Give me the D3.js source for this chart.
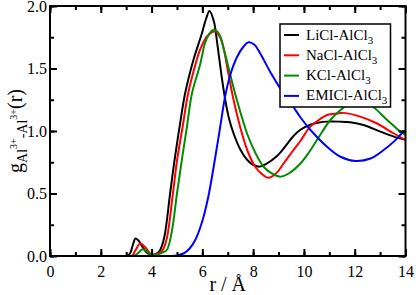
<!DOCTYPE html>
<html><head><meta charset="utf-8">
<script src="https://cdn.jsdelivr.net/npm/d3@7"></script>
<style>body{margin:0;background:#fff}svg{display:block}text{font-family:"Liberation Serif","Times New Roman",Times,"DejaVu Serif",serif;fill:#000}</style>
</head><body><svg id="c" width="416" height="295"></svg>
<script>
const seriesNames = ["LiCl-AlCl", "NaCl-AlCl", "KCl-AlCl", "EMICl-AlCl"];
const seriesColors = ["#000000", "#ff0000", "#008c00", "#0000ff"];
const liclR = [0,3.0,3.15,3.25,3.37,3.5,3.65,3.8,3.95,4.1,4.25,4.34,4.5,4.73,4.9,5.1,5.32,5.65,5.98,6.15,6.28,6.45,6.6,6.75,6.9,7.05,7.23,7.5,7.76,8.0,8.25,8.5,8.94,9.2,9.59,9.86,10.25,10.6,10.91,11.4,11.83,12.35,13.01,13.54,14];
const liclG = [0,0,0.02,0.08,0.14,0.12,0.07,0.03,0.01,0.01,0.025,0.048,0.15,0.50,0.76,1.03,1.30,1.57,1.78,1.90,1.96,1.88,1.68,1.45,1.25,1.10,0.98,0.85,0.77,0.73,0.715,0.735,0.80,0.86,0.96,1.01,1.05,1.068,1.075,1.075,1.07,1.048,0.995,0.955,0.93];
const naclR = [0,3.2,3.35,3.55,3.75,3.9,4.0,4.15,4.3,4.44,4.6,4.84,5.0,5.22,5.44,5.78,5.91,6.2,6.51,6.72,6.85,6.98,7.23,7.56,7.8,8.08,8.35,8.61,8.9,9.2,9.59,9.86,10.25,10.6,10.91,11.3,11.57,12.22,12.88,13.54,14];
const naclG = [0,0,0.04,0.10,0.07,0.03,0.012,0.012,0.025,0.048,0.14,0.50,0.76,1.03,1.30,1.57,1.65,1.76,1.795,1.74,1.65,1.51,1.248,0.98,0.83,0.714,0.655,0.626,0.66,0.74,0.848,0.92,1.035,1.09,1.128,1.14,1.145,1.115,1.06,0.98,0.93];
const kclR = [0,3.3,3.45,3.65,3.8,3.95,4.1,4.25,4.4,4.6,4.8,5.0,5.2,5.39,5.59,5.91,6.1,6.25,6.44,6.65,6.85,7.1,7.36,7.76,8.1,8.41,8.7,9.07,9.4,9.86,10.2,10.52,11.04,11.4,11.7,12.15,12.62,13.28,13.8,14];
const kclG = [0,0,0.02,0.054,0.04,0.015,0.01,0.012,0.025,0.048,0.2,0.50,0.78,1.03,1.30,1.53,1.70,1.77,1.81,1.78,1.65,1.45,1.248,0.98,0.82,0.714,0.665,0.635,0.66,0.74,0.83,0.93,1.088,1.16,1.208,1.24,1.208,1.088,0.995,0.97];
const emiclR = [0,4.8,5.0,5.26,5.5,5.72,6.0,6.24,6.5,6.7,6.9,7.1,7.36,7.6,7.82,8.05,8.28,8.68,9.07,9.59,9.86,10.25,10.91,11.44,12.03,12.62,13.14,13.54,13.93,14];
const emiclG = [0,0,0.005,0.02,0.06,0.128,0.28,0.48,0.78,1.03,1.28,1.45,1.59,1.67,1.71,1.69,1.62,1.47,1.34,1.19,1.11,1.01,0.874,0.794,0.76,0.78,0.848,0.915,0.995,1.0];
const xTicks = [0,2,4,6,8,10,12,14];
const yTicks = [0.0,0.5,1.0,1.5,2.0];

const rs = [liclR, naclR, kclR, emiclR];
const gs = [liclG, naclG, kclG, emiclG];

const svg = d3.select("#c");
const L = 50, R = 405.5, T = 6, B = 256;
const x = d3.scaleLinear().domain([0,14]).range([L,R]);
const y = d3.scaleLinear().domain([0,2]).range([B,T]);

svg.append("clipPath").attr("id","clip").append("rect").attr("x",L).attr("y",T).attr("width",R-L).attr("height",B-T);

const line = d3.line().x(d=>x(d[0])).y(d=>y(d[1])).curve(d3.curveCatmullRom.alpha(0.5));
const gCurves = svg.append("g").attr("clip-path","url(#clip)");
rs.forEach((r,i)=>{
  gCurves.append("path").datum(r.map((v,j)=>[v,gs[i][j]]))
    .attr("d",line).attr("fill","none").attr("stroke",seriesColors[i]).attr("stroke-width",2);
});

const xMinor = d3.range(0,15,1), yMinor = d3.range(0,2.01,0.25);
const mk = (g)=>{ g.attr("font-family",null); g.select(".domain").remove(); g.selectAll("line").attr("stroke","#000").attr("stroke-width",2); };
svg.append("g").attr("transform",`translate(0,${B})`).call(d3.axisBottom(x).tickValues(xMinor).tickSize(-4).tickFormat("")).call(mk);
svg.append("g").attr("transform",`translate(0,${B})`).call(d3.axisBottom(x).tickValues(xTicks).tickSize(-7).tickPadding(10).tickFormat(d3.format("d"))).call(mk)
  .selectAll("text").attr("font-size",16);
svg.append("g").attr("transform",`translate(0,${T})`).call(d3.axisTop(x).tickValues(xMinor).tickSize(-4).tickFormat("")).call(mk);
svg.append("g").attr("transform",`translate(0,${T})`).call(d3.axisTop(x).tickValues(xTicks).tickSize(-7).tickFormat("")).call(mk);
svg.append("g").attr("transform",`translate(${L},0)`).call(d3.axisLeft(y).tickValues(yMinor).tickSize(-4).tickFormat("")).call(mk);
svg.append("g").attr("transform",`translate(${L},0)`).call(d3.axisLeft(y).tickValues(yTicks).tickSize(-7).tickPadding(3).tickFormat(d3.format(".1f"))).call(mk)
  .selectAll("text").attr("font-size",16);
svg.append("g").attr("transform",`translate(${R},0)`).call(d3.axisRight(y).tickValues(yMinor).tickSize(-4).tickFormat("")).call(mk);
svg.append("g").attr("transform",`translate(${R},0)`).call(d3.axisRight(y).tickValues(yTicks).tickSize(-7).tickFormat("")).call(mk);
svg.selectAll(".tick text").attr("fill","#000");

svg.append("rect").attr("x",L).attr("y",T).attr("width",R-L).attr("height",B-T).attr("fill","none").attr("stroke","#000").attr("stroke-width",2);

// legend
const lg = svg.append("g");
lg.append("rect").attr("x",280).attr("y",24).attr("width",110.5).attr("height",83).attr("fill","#fff").attr("stroke","#000").attr("stroke-width",1.5);
seriesNames.forEach((n,i)=>{
  const yy = 35 + i*20.3;
  lg.append("line").attr("x1",284).attr("x2",299).attr("y1",yy).attr("y2",yy).attr("stroke",seriesColors[i]).attr("stroke-width",2);
  const t = lg.append("text").attr("x",306).attr("y",yy+4.5).attr("font-size",15);
  t.append("tspan").text(n);
  t.append("tspan").attr("font-size",11).attr("dy",4).text("3");
});

// axis titles
svg.append("text").attr("x",(L+R)/2).attr("y",290.5).attr("text-anchor","middle").attr("font-size",20).text("r / Å");
const yt = svg.append("text").attr("transform",`translate(22,${(T+B)/2}) rotate(-90)`).attr("text-anchor","middle").attr("font-size",20);
yt.append("tspan").text("g");
yt.append("tspan").attr("font-size",14).attr("dy",5).text("Al");
yt.append("tspan").attr("font-size",10).attr("dy",-10).text("3+");
yt.append("tspan").attr("font-size",14).attr("dy",10).text("-Al");
yt.append("tspan").attr("font-size",10).attr("dy",-10).text("3+");
yt.append("tspan").attr("dy",5).text("(r)");
</script></body></html>
